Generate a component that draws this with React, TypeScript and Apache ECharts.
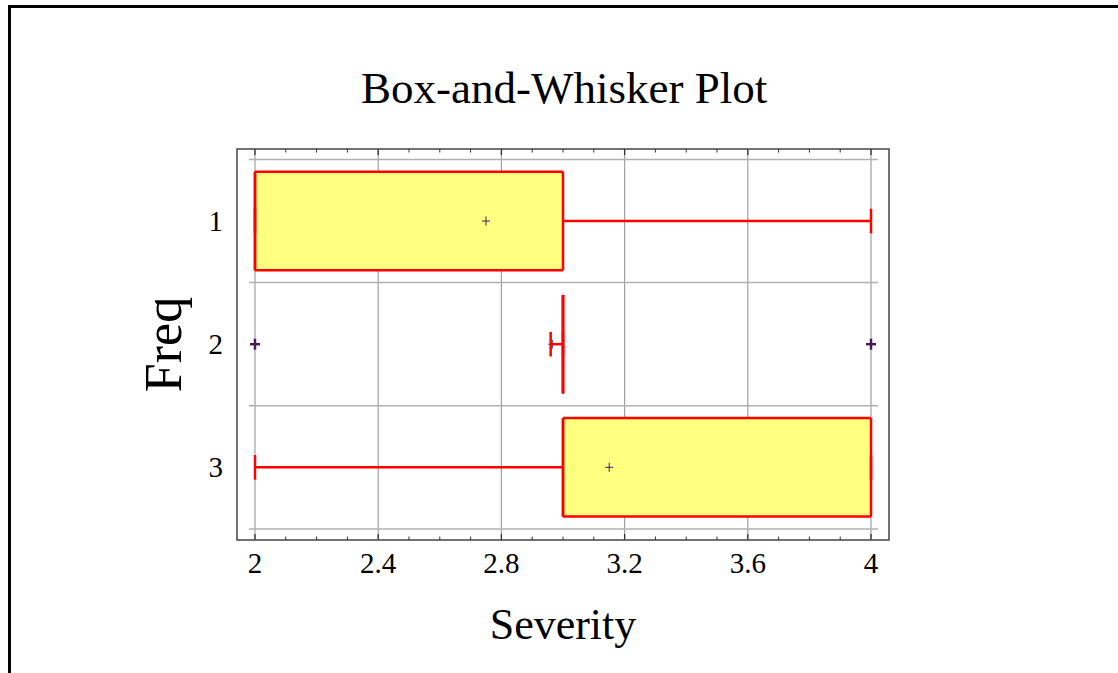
import React, { useEffect, useRef } from "react";
import * as echarts from "echarts";

// ---- data ----
const categories = [1, 2, 3];
const whiskerLow = [2, 2.96, 2];
const q1 = [2, 3, 3];
const median = [2, 3, 3];
const q3 = [3, 3, 4];
const whiskerHigh = [4, 3, 4];
const means = [2.75, 2.965, 3.15];
const outliers: [number, number][] = [
  [2, 2],
  [4, 2],
];
const xLabels = [2, 2.4, 2.8, 3.2, 3.6, 4];
const xMinorTicks = [2.1, 2.2, 2.3, 2.5, 2.6, 2.7, 2.9, 3.0, 3.1, 3.3, 3.4, 3.5, 3.7, 3.8, 3.9];
const yGridLines = [0.5, 1.5, 2.5, 3.5];

const X_MIN = 1.9416;
const X_MAX = 4.0584;
const Y_MIN = 0.415;
const Y_MAX = 3.59;
const FONT = "'Liberation Serif', 'Times New Roman', serif";
const RED = "#ff0000";
const MARK = "#4a1a55";

export default function App() {
  const ref = useRef<HTMLDivElement>(null);
  useEffect(() => {
    if (!ref.current) return;
    const chart = echarts.init(ref.current, undefined, { renderer: "svg" });

    const boxData = categories.map((c, i) => [
      c,
      whiskerLow[i],
      q1[i],
      median[i],
      q3[i],
      whiskerHigh[i],
      means[i],
    ]);

    const option: any = {
      animation: false,
      backgroundColor: "#ffffff",
      title: {
        text: "Box-and-Whisker Plot",
        left: 356,
        top: 60,
        textStyle: { fontFamily: FONT, fontSize: 45, fontWeight: "normal", color: "#000" },
      },
      grid: {
        left: 237,
        top: 149,
        right: 229,
        bottom: 133,
        show: true,
        borderColor: "#444",
        borderWidth: 1.5,
        backgroundColor: "transparent",
      },
      xAxis: {
        type: "value",
        min: X_MIN,
        max: X_MAX,
        name: "Severity",
        nameLocation: "middle",
        nameGap: 62,
        nameTextStyle: { fontFamily: FONT, fontSize: 44, color: "#000" },
        axisLine: { show: false },
        axisTick: { show: false },
        splitLine: { show: false },
        axisLabel: {
          customValues: xLabels,
          formatter: (v: number) => String(Math.round(v * 10) / 10),
          fontFamily: FONT,
          fontSize: 29,
          color: "#000",
          margin: 8,
        },
      },
      yAxis: {
        type: "value",
        inverse: true,
        min: Y_MIN,
        max: Y_MAX,
        name: "Freq",
        nameLocation: "middle",
        nameGap: 48,
        nameTextStyle: { fontFamily: FONT, fontSize: 52, color: "#000" },
        axisLine: { show: false },
        axisTick: { show: false },
        splitLine: { show: false },
        axisLabel: {
          customValues: categories,
          fontFamily: FONT,
          fontSize: 29,
          color: "#000",
          margin: 14,
        },
      },
      graphic: [
        { type: "line", shape: { x1: 9.5, y1: 5, x2: 9.5, y2: 673 }, style: { stroke: "#000", lineWidth: 3 } },
        { type: "line", shape: { x1: 8, y1: 6.5, x2: 1118, y2: 6.5 }, style: { stroke: "#000", lineWidth: 3 } },
      ],
      series: [
        // vertical grid lines
        {
          type: "custom",
          silent: true,
          z: 1,
          data: xLabels.map((v) => [v]),
          renderItem: (params: any, api: any) => {
            const x = api.value(0);
            const a = api.coord([x, Y_MIN]);
            const b = api.coord([x, Y_MAX]);
            return {
              type: "line",
              shape: { x1: a[0], y1: a[1], x2: b[0], y2: b[1] },
              style: { stroke: "#a0a0a0", lineWidth: 1.2 },
            };
          },
        },
        // horizontal grid lines
        {
          type: "custom",
          silent: true,
          z: 1,
          data: yGridLines.map((v) => [v]),
          renderItem: (params: any, api: any) => {
            const y = api.value(0);
            const a = api.coord([1.98, y]);
            const b = api.coord([4.023, y]);
            return {
              type: "line",
              shape: { x1: a[0], y1: a[1], x2: b[0], y2: b[1] },
              style: { stroke: "#b0b0b0", lineWidth: 1.5 },
            };
          },
        },
        // major ticks (top and bottom, inward)
        {
          type: "custom",
          silent: true,
          z: 2,
          data: xLabels.map((v) => [v]),
          renderItem: (params: any, api: any) => {
            const x = api.value(0);
            const top = api.coord([x, Y_MIN]);
            const bot = api.coord([x, Y_MAX]);
            return {
              type: "group",
              children: [
                { type: "line", shape: { x1: top[0], y1: top[1], x2: top[0], y2: top[1] + 6 }, style: { stroke: "#333", lineWidth: 1.3 } },
                { type: "line", shape: { x1: bot[0], y1: bot[1], x2: bot[0], y2: bot[1] - 6 }, style: { stroke: "#333", lineWidth: 1.3 } },
              ],
            };
          },
        },
        // minor ticks
        {
          type: "custom",
          silent: true,
          z: 2,
          data: xMinorTicks.map((v) => [v]),
          renderItem: (params: any, api: any) => {
            const x = api.value(0);
            const top = api.coord([x, Y_MIN]);
            const bot = api.coord([x, Y_MAX]);
            return {
              type: "group",
              children: [
                { type: "line", shape: { x1: top[0], y1: top[1], x2: top[0], y2: top[1] + 3.5 }, style: { stroke: "#333", lineWidth: 1 } },
                { type: "line", shape: { x1: bot[0], y1: bot[1], x2: bot[0], y2: bot[1] - 3.5 }, style: { stroke: "#333", lineWidth: 1 } },
              ],
            };
          },
        },
        // boxes
        {
          type: "custom",
          silent: true,
          z: 5,
          data: boxData,
          renderItem: (params: any, api: any) => {
            const c = api.value(0);
            const lo = api.value(1);
            const b1 = api.value(2);
            const med = api.value(3);
            const b3 = api.value(4);
            const hi = api.value(5);
            const mean = api.value(6);
            const P = (x: number, y: number) => api.coord([x, y]);
            const tl = P(b1, c - 0.4);
            const br = P(b3, c + 0.4);
            const mid = P(mean, c);
            const red = { stroke: RED, lineWidth: 2.5 };
            const line = (xa: number, ya: number, xb: number, yb: number) => {
              const a = P(xa, ya);
              const b = P(xb, yb);
              return { type: "line", shape: { x1: a[0], y1: a[1], x2: b[0], y2: b[1] }, style: red };
            };
            return {
              type: "group",
              children: [
                {
                  type: "rect",
                  shape: { x: tl[0], y: tl[1], width: br[0] - tl[0], height: br[1] - tl[1] },
                  style: { fill: "#ffff80", stroke: null },
                },
                { type: "line", shape: { x1: mid[0] - 4, y1: mid[1], x2: mid[0] + 4, y2: mid[1] }, style: { stroke: MARK, lineWidth: 1 } },
                { type: "line", shape: { x1: mid[0], y1: mid[1] - 4.5, x2: mid[0], y2: mid[1] + 4.5 }, style: { stroke: MARK, lineWidth: 1 } },
                line(lo, c, b1, c),
                line(b3, c, hi, c),
                line(lo, c - 0.1, lo, c + 0.1),
                line(hi, c - 0.1, hi, c + 0.1),
                line(b1, c - 0.4, b3, c - 0.4),
                line(b1, c + 0.4, b3, c + 0.4),
                line(b1, c - 0.4, b1, c + 0.4),
                line(b3, c - 0.4, b3, c + 0.4),
                line(med, c - 0.4, med, c + 0.4),
              ],
            };
          },
        },
        // outliers
        {
          type: "custom",
          silent: true,
          z: 6,
          data: outliers,
          renderItem: (params: any, api: any) => {
            const p = api.coord([api.value(0), api.value(1)]);
            return {
              type: "group",
              children: [
                { type: "line", shape: { x1: p[0] - 5, y1: p[1], x2: p[0] + 5, y2: p[1] }, style: { stroke: MARK, lineWidth: 2.5 } },
                { type: "line", shape: { x1: p[0], y1: p[1] - 5.5, x2: p[0], y2: p[1] + 5.5 }, style: { stroke: MARK, lineWidth: 2.5 } },
              ],
            };
          },
        },
      ],
    };

    chart.setOption(option);
    return () => chart.dispose();
  }, []);

  return (
    <div
      ref={ref}
      style={{ position: "absolute", left: 0, top: 0, width: 1118, height: 673 }}
    />
  );
}
